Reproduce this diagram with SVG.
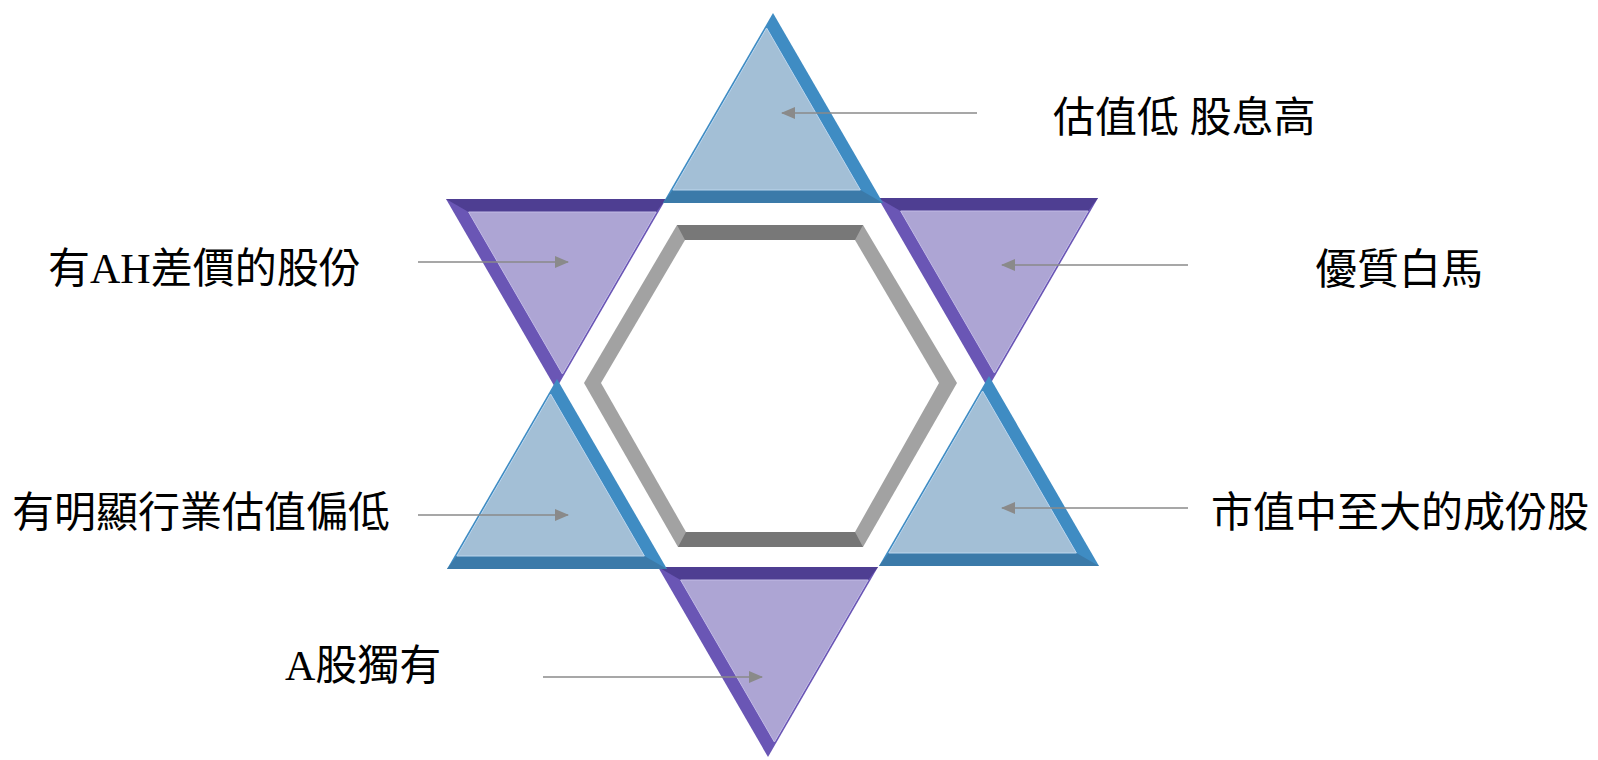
<svg xmlns="http://www.w3.org/2000/svg" xmlns:xlink="http://www.w3.org/1999/xlink" width="1598" height="760" viewBox="0 0 1598 760">
<style>
.lbl{font-family:"Liberation Serif","Noto Sans CJK TC",serif;font-size:42px;fill:#000}
.conn{stroke:#8a8a8a;stroke-width:1.6;fill:none}
.bfill{fill:#a3bfd6}
.bside{fill:#3f8cc3}
.bbase{fill:#3b7aa9}
.bhl{fill:none;stroke:#bcd6ee;stroke-width:1}
.pfill{fill:#ada5d4}
.ptop{fill:#4e3e92}
.pside{fill:#6a56b5}
.phl{fill:none;stroke:#c3bce6;stroke-width:1}
</style>
<defs>
<marker id="ah" markerUnits="userSpaceOnUse" markerWidth="14" markerHeight="12" refX="13" refY="6" orient="auto">
<path d="M0,0 L14,6 L0,12 Z" fill="#8a8a8a"/>
</marker>
<g id="up">
<polygon class="bside" points="0,0 -110,190 110,190"/>
<polygon class="bbase" points="-110,190 110,190 87.4,177 -100.2,177"/>
<polygon class="bfill" points="-6.4,15 -100.2,177 87.4,177"/>
<polygon class="bhl" points="-6.4,15 -100.2,177 87.4,177"/>
</g>
<g id="down">
<polygon class="pside" points="-110,0 110,0 0,190"/>
<polygon class="ptop" points="-110,0 110,0 100.2,13 -87.4,13"/>
<polygon class="pfill" points="-87.4,13 100.2,13 6.4,175"/>
<polygon class="phl" points="-87.4,13 100.2,13 6.4,175"/>
</g>
</defs>
<rect width="1598" height="760" fill="#ffffff"/>

<g id="tri-upper-left"><use xlink:href="#down" transform="translate(556,199)"/></g>
<g id="tri-upper-right"><use xlink:href="#down" transform="translate(988,198)"/></g>
<g id="tri-bottom"><use xlink:href="#down" transform="translate(768,567)"/></g>
<g id="tri-top"><use xlink:href="#up" transform="translate(773,13)"/></g>
<g id="tri-lower-left"><use xlink:href="#up" transform="translate(557,379)"/></g>
<g id="tri-lower-right"><use xlink:href="#up" transform="translate(989,376)"/></g>

<g id="hexagon">
<polygon points="677,225 863,225 957,383 863,547 678,547 584,383" fill="#a2a2a2"/>
<polygon points="677,225 863,225 855,240 685,240" fill="#787878"/>
<polygon points="678,547 863,547 855,532 686,532" fill="#767676"/>
<polygon points="685,240 855,240 939,383 855,532 686,532 601,383" fill="#ffffff"/>
</g>

<g id="connectors">
<line class="conn" x1="977" y1="113" x2="782" y2="113" marker-end="url(#ah)"/>
<line class="conn" x1="418" y1="262" x2="568" y2="262" marker-end="url(#ah)"/>
<line class="conn" x1="1188" y1="265" x2="1002" y2="265" marker-end="url(#ah)"/>
<line class="conn" x1="418" y1="515" x2="568" y2="515" marker-end="url(#ah)"/>
<line class="conn" x1="1188" y1="508" x2="1002" y2="508" marker-end="url(#ah)"/>
<line class="conn" x1="543" y1="677" x2="762" y2="677" marker-end="url(#ah)"/>
</g>

<g id="labels">
<text class="lbl" x="1053" y="132">估值低 股息高</text>
<text class="lbl" x="1315" y="284">優質白馬</text>
<text class="lbl" x="48" y="283">有AH差價的股份</text>
<text class="lbl" x="12" y="527">有明顯行業估值偏低</text>
<text class="lbl" x="1211" y="527">市值中至大的成份股</text>
<text class="lbl" x="285" y="680">A股獨有</text>
</g>
</svg>
